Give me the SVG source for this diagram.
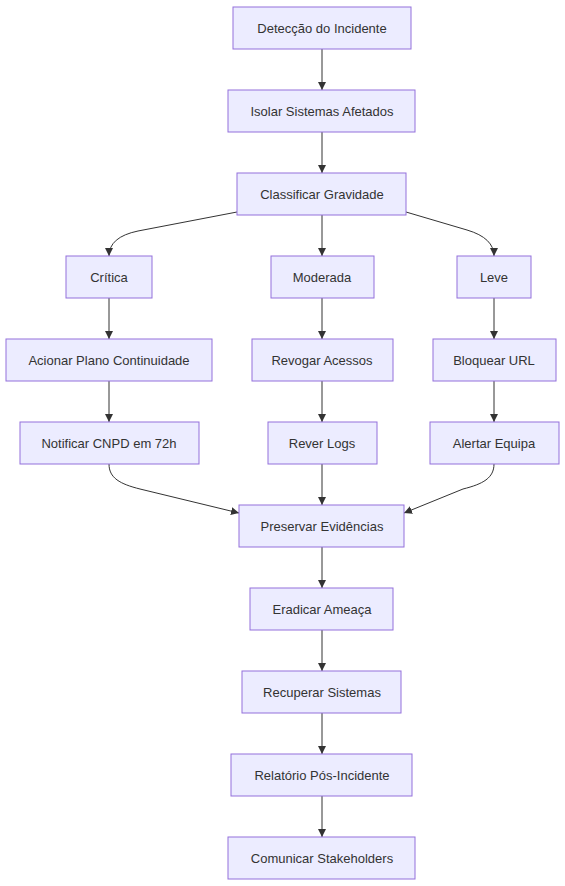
<svg xmlns="http://www.w3.org/2000/svg" width="565" height="886" viewBox="0 0 565 886">
<defs>
<style>
.n rect{fill:#ECECFF;stroke:#9370DB;stroke-width:1}
.n text{font-family:"Liberation Sans","DejaVu Sans",sans-serif;font-size:13px;fill:#333;text-anchor:middle;dominant-baseline:central}
.e path{fill:none;stroke:#333;stroke-width:1}
</style>
<marker id="ah" viewBox="0 0 10 10" refX="10" refY="5" markerWidth="8" markerHeight="8" markerUnits="userSpaceOnUse" orient="auto">
<path d="M0,0 L10,5 L0,10 z" fill="#333"/>
</marker>
</defs>
<rect width="565" height="886" fill="#fff"/>
<g id="edges" class="e">
<path d="M322,49 L322,90" marker-end="url(#ah)"/>
<path d="M322,132 L322,173" marker-end="url(#ah)"/>
<path d="M237,212 L138,231 Q109,237 109,256" marker-end="url(#ah)"/>
<path d="M322,215 L322,256" marker-end="url(#ah)"/>
<path d="M406,212 L467,230 Q494,238 494,256" marker-end="url(#ah)"/>
<path d="M109,298 L109,339" marker-end="url(#ah)"/>
<path d="M322,298 L322,339" marker-end="url(#ah)"/>
<path d="M494,298 L494,339" marker-end="url(#ah)"/>
<path d="M109,381 L109,422" marker-end="url(#ah)"/>
<path d="M322,381 L322,422" marker-end="url(#ah)"/>
<path d="M494,381 L494,422" marker-end="url(#ah)"/>
<path d="M109,464 C109,478 120,484 140,489 L239,513" marker-end="url(#ah)"/>
<path d="M322,464 L322,505" marker-end="url(#ah)"/>
<path d="M494,464 C494,478 483,484 463,489 L404,513" marker-end="url(#ah)"/>
<path d="M322,547 L322,588" marker-end="url(#ah)"/>
<path d="M322,630 L322,671" marker-end="url(#ah)"/>
<path d="M322,713 L322,754" marker-end="url(#ah)"/>
<path d="M322,796 L322,837" marker-end="url(#ah)"/>
</g>
<g id="n1" class="n"><rect x="233" y="7" width="178" height="42"/><text x="322" y="28">Detecção do Incidente</text></g>
<g id="n2" class="n"><rect x="228" y="90" width="187" height="42"/><text x="322" y="111">Isolar Sistemas Afetados</text></g>
<g id="n3" class="n"><rect x="237" y="173" width="169" height="42"/><text x="322" y="194">Classificar Gravidade</text></g>
<g id="n4" class="n"><rect x="66" y="256" width="86" height="42"/><text x="109" y="277">Crítica</text></g>
<g id="n5" class="n"><rect x="271" y="256" width="103" height="42"/><text x="322" y="277">Moderada</text></g>
<g id="n6" class="n"><rect x="457" y="256" width="74" height="42"/><text x="494" y="277">Leve</text></g>
<g id="n7" class="n"><rect x="6" y="339" width="206" height="42"/><text x="109" y="360">Acionar Plano Continuidade</text></g>
<g id="n8" class="n"><rect x="252" y="339" width="141" height="42"/><text x="322" y="360">Revogar Acessos</text></g>
<g id="n9" class="n"><rect x="433" y="339" width="123" height="42"/><text x="494" y="360">Bloquear URL</text></g>
<g id="n10" class="n"><rect x="20" y="422" width="179" height="42"/><text x="109" y="443">Notificar CNPD em 72h</text></g>
<g id="n11" class="n"><rect x="268" y="422" width="109" height="42"/><text x="322" y="443">Rever Logs</text></g>
<g id="n12" class="n"><rect x="430" y="422" width="129" height="42"/><text x="494" y="443">Alertar Equipa</text></g>
<g id="n13" class="n"><rect x="239" y="505" width="165" height="42"/><text x="322" y="526">Preservar Evidências</text></g>
<g id="n14" class="n"><rect x="250" y="588" width="143" height="42"/><text x="322" y="609">Eradicar Ameaça</text></g>
<g id="n15" class="n"><rect x="242" y="671" width="159" height="42"/><text x="322" y="692">Recuperar Sistemas</text></g>
<g id="n16" class="n"><rect x="231" y="754" width="181" height="42"/><text x="322" y="775">Relatório Pós-Incidente</text></g>
<g id="n17" class="n"><rect x="228" y="837" width="187" height="42"/><text x="322" y="858">Comunicar Stakeholders</text></g>
</svg>
